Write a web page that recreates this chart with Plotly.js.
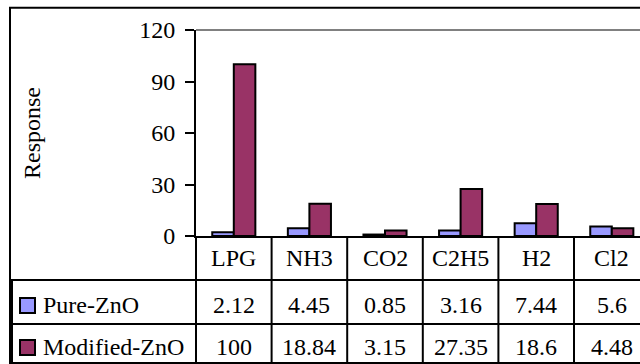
<!DOCTYPE html>
<html><head><meta charset="utf-8">
<script src="https://cdn.plot.ly/plotly-3.0.1.min.js"></script>
<style>html,body{margin:0;padding:0;overflow:hidden;background:#fff}</style>
</head><body><div id="chart" style="width:640px;height:364px"></div>
<script>
// ---- data ----
const categories = ['LPG', 'NH3', 'CO2', 'C2H5', 'H2', 'Cl2'];
const seriesNames = ['Pure-ZnO', 'Modified-ZnO'];
const pureZnO = [2.12, 4.45, 0.85, 3.16, 7.44, 5.6];
const modifiedZnO = [100, 18.84, 3.15, 27.35, 18.6, 4.48];
const yTickVals = [0, 30, 60, 90, 120];
const yTitle = 'Response';

// ---- layout geometry (pixels) ----
const W = 640, H = 364;
const L = 196, T = 30, PW = W - L, PH = 206;
const px = v => (v - L) / PW;           // pixel x -> paper x
const py = v => (T + PH - v) / PH;       // pixel y -> paper y

const FONT = '"Liberation Serif", "Times New Roman", serif';
const FS = 24;
const colors = ['#9999FF', '#993366'];
const seriesVals = [pureZnO, modifiedZnO];

const traces = seriesVals.map((vals, i) => ({
  type: 'bar', name: seriesNames[i], x: categories, y: vals,
  marker: {color: colors[i], line: {color: '#000', width: 2}},
  hoverinfo: 'x+y+name'
}));

const shapes = [];
const line = (x0, y0, x1, y1, xref, color, width) => shapes.push({
  type: 'line', xref: xref || 'paper', yref: 'paper', x0, y0, x1, y1,
  line: {color: color || '#000', width: width || 2}
});
// outer chart border
line(px(9), py(7.7), px(720), py(7.7));
line(px(10), py(7), px(10), py(420));
// plot area top border (gray)
line(0, 1, px(720), 1, 'paper', '#808080', 2);
// data table grid
line(px(12), py(280), px(12), py(420));
[280, 324, 363].forEach(y => line(px(11), py(y), px(720), py(y)));
line(0, 0, 0, py(420));
for (let k = 0; k < categories.length - 1; k++) line(k + 0.5, 0, k + 0.5, py(420), 'x');

// legend keys in table
const rowCenters = [304.5, 347];
const keyTops = [298, 340];
keyTops.forEach((t, i) => shapes.push({
  type: 'rect', xref: 'paper', yref: 'paper',
  x0: px(20), x1: px(35), y0: py(t), y1: py(t + 15),
  fillcolor: colors[i], line: {color: '#000', width: 2}
}));

const annotations = [];
const txt = (text, x, y, xref, xanchor) => annotations.push({
  text, x, y, xref: xref || 'paper', yref: 'paper', xanchor: xanchor || 'center',
  yanchor: 'middle', showarrow: false, font: {family: FONT, size: FS, color: '#000'}
});
categories.forEach((c, k) => {
  txt(c, k, py(258), 'x');
  seriesVals.forEach((vals, i) => txt(String(vals[k]), k, py(rowCenters[i]), 'x'));
});
seriesNames.forEach((n, i) => txt(n, px(41), py(rowCenters[i]), 'paper', 'left'));
annotations.push({
  text: yTitle, textangle: -90, x: px(32), y: 0.5, xref: 'paper', yref: 'paper',
  xanchor: 'center', yanchor: 'middle', showarrow: false,
  font: {family: FONT, size: FS, color: '#000'}
});

const layout = {
  width: W, height: H,
  margin: {l: L, r: 0, t: T, b: H - T - PH, pad: 0},
  paper_bgcolor: '#fff', plot_bgcolor: '#fff',
  showlegend: false, barmode: 'group', bargap: 0.43, bargroupgap: 0,
  xaxis: {
    type: 'category', range: [-0.5, -0.5 + PW / 75.6], showticklabels: false,
    ticks: '', showgrid: false, zeroline: false,
    showline: true, linecolor: '#000', linewidth: 2, fixedrange: true
  },
  yaxis: {
    range: [0, 120], tickvals: yTickVals, ticktext: yTickVals.map(String),
    ticks: 'outside', ticklen: 9, tickwidth: 2, tickcolor: '#000',
    showgrid: false, zeroline: false, showline: true, linecolor: '#000', linewidth: 2,
    tickfont: {family: FONT, size: FS, color: '#000'}, ticklabelstandoff: 5, fixedrange: true
  },
  shapes, annotations,
  font: {family: FONT, size: FS, color: '#000'}
};

Plotly.newPlot('chart', traces, layout, {displayModeBar: false, staticPlot: true});
</script>
</body></html>
